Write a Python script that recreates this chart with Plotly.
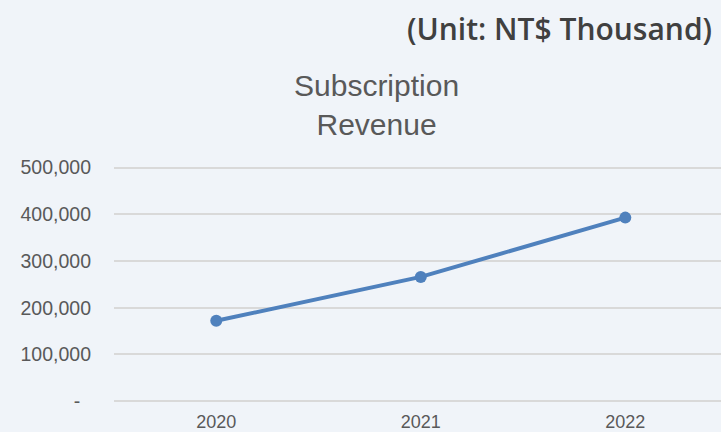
import plotly.graph_objects as go

years = ["2020", "2021", "2022"]
revenue = [172000, 266000, 393000]
ytick_vals = [0, 100000, 200000, 300000, 400000, 500000]
ytick_text = ["-\u00a0\u00a0", "100,000", "200,000", "300,000", "400,000", "500,000"]
chart_title = "Subscription<br>Revenue"
unit_note = "(Unit: NT$ Thousand)"

fig = go.Figure()
fig.add_trace(go.Scatter(
    x=years, y=revenue, mode="lines+markers",
    line=dict(color="#4f81bd", width=4),
    marker=dict(color="#4f81bd", size=12),
    showlegend=False, hoverinfo="skip",
))

M_L, M_T, M_B = 114, 163, 30
fig.update_layout(
    width=721, height=432,
    margin=dict(l=M_L, r=0, t=M_T, b=M_B),
    paper_bgcolor="#f0f4f9",
    plot_bgcolor="rgba(0,0,0,0)",
    font=dict(family="Liberation Sans, Arial, sans-serif", color="#595959"),
    xaxis=dict(
        type="category", range=[-0.5, 2.468], automargin=False,
        showgrid=False, zeroline=False, showline=False,
        ticks="", ticklabelstandoff=7,
        tickfont=dict(size=18, color="#595959"),
    ),
    yaxis=dict(
        range=[-2000, 510000], tickvals=ytick_vals, ticktext=ytick_text,
        automargin=False,
        showgrid=True, gridcolor="#d9d9d9", gridwidth=1.5,
        zeroline=True, zerolinecolor="#d9d9d9", zerolinewidth=1.5,
        showline=False, ticks="",
        ticklabelstandoff=22,
        tickfont=dict(size=19.5, color="#595959"),
    ),
)

plot_w = 721 - M_L
plot_h = 432 - M_T - M_B
def px_to_paper(xp, yp):
    return (xp - M_L) / plot_w, (432 - M_B - yp) / plot_h

tx, ty = px_to_paper(376, 105)
ux, uy = px_to_paper(714, 28)
fig.add_annotation(text=chart_title, x=tx, y=ty, xref="paper", yref="paper",
                   xanchor="center", yanchor="middle", showarrow=False,
                   font=dict(size=30, color="#595959"))
fig.add_annotation(text=unit_note, x=ux, y=uy, xref="paper", yref="paper",
                   xanchor="right", yanchor="middle", showarrow=False,
                   font=dict(family="Open Sans, sans-serif", size=30,
                             weight=600, color="#404040"))

fig.write_html("out.html", config={"displayModeBar": False},
               post_script="document.body.style.margin='0px';")
